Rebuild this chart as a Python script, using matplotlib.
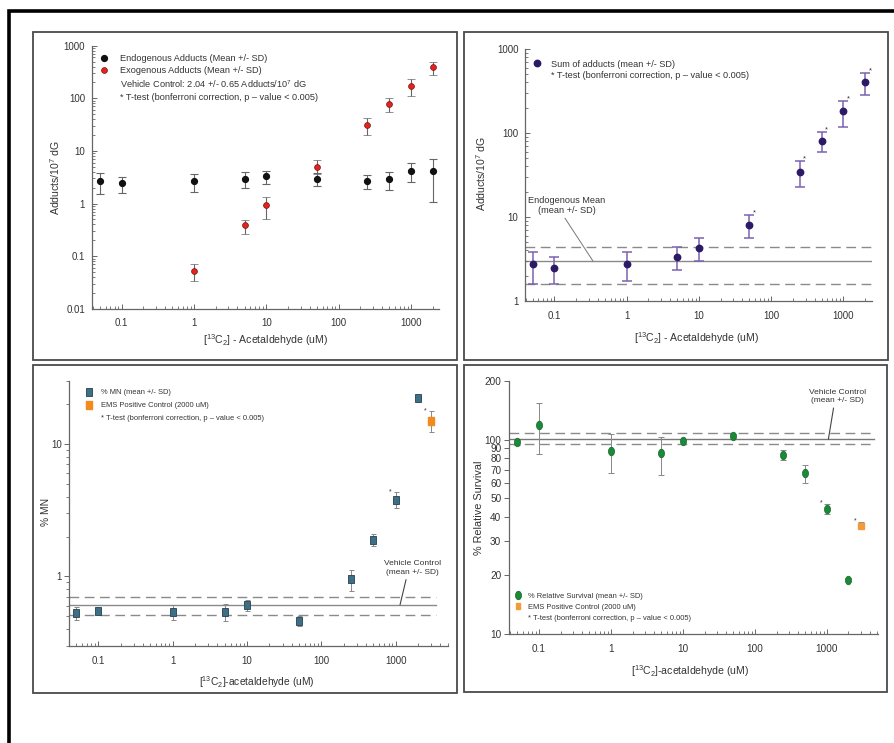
import matplotlib
matplotlib.use('Agg')
import matplotlib.pyplot as plt
from matplotlib.patches import Rectangle
from matplotlib.lines import Line2D
from matplotlib.markers import MarkerStyle
from matplotlib.transforms import Affine2D
from matplotlib.ticker import LogLocator, NullFormatter, NullLocator
import numpy as np

plt.rcParams['font.family'] = ['Liberation Sans', 'DejaVu Sans']
plt.rcParams['mathtext.fontset'] = 'custom'
plt.rcParams['mathtext.rm'] = 'Liberation Sans'
plt.rcParams['mathtext.it'] = 'Liberation Sans:italic'
plt.rcParams['text.color'] = '#333333'

# ---------------- data ----------------
dose = [0.05, 0.1, 1, 5, 10, 50, 250, 500, 1000, 2000]
xtick_vals = [0.1, 1, 10, 100, 1000]
xtick_labels = ['0.1', '1', '10', '100', '1000']

# panel A: endogenous / exogenous adducts
endo_mean = [2.72, 2.45, 2.72, 2.96, 3.33, 2.96, 2.72, 2.93, 4.15, 4.1]
endo_hi = [3.75, 3.24, 3.7, 3.92, 4.2, 3.85, 3.53, 4.03, 5.8, 7.1]
endo_lo = [1.52, 1.58, 1.63, 1.97, 2.38, 2.15, 1.91, 1.78, 2.53, 1.05]
exo_dose = [1, 5, 10, 50, 250, 500, 1000, 2000]
exo_mean = [0.053, 0.385, 0.935, 5.0, 31, 78, 171, 388]
exo_hi = [0.072, 0.49, 1.33, 6.8, 42, 100, 233, 497]
exo_lo = [0.034, 0.263, 0.507, 3.63, 20, 55.6, 111, 273]
a_yticks = [0.01, 0.1, 1, 10, 100, 1000]
a_ylabels = ['0.01', '0.1', '1', '10', '100', '1000']

# panel B: sum of adducts
sum_mean = [2.73, 2.47, 2.75, 3.34, 4.31, 8.1, 34.7, 81, 181, 401]
sum_hi = [3.87, 3.31, 3.8, 4.36, 5.57, 10.6, 46.4, 104, 243, 522]
sum_lo = [1.58, 1.61, 1.72, 2.32, 3.02, 5.57, 22.9, 59.4, 119, 281]
sum_sig = [False, False, False, False, False, True, True, True, True, True]
endo_ctrl = [2.99, 4.43, 1.59]   # mean, mean+SD, mean-SD
b_yticks = [1, 10, 100, 1000]
b_ylabels = ['1', '10', '100', '1000']

# panel C: % MN
mn_mean = [0.529, 0.55, 0.541, 0.541, 0.604, 0.457, 0.955, 1.89, 3.78, 22.3]
mn_hi = [0.583, 0.565, 0.608, 0.618, 0.659, 0.505, 1.12, 2.09, 4.35, 22.9]
mn_lo = [0.468, 0.535, 0.468, 0.457, 0.55, 0.424, 0.78, 1.69, 3.29, 21.7]
mn_sig = [False, False, False, False, False, False, False, False, True, False]
ems_dose = [3000]
ems_mn_mean = [14.9]
ems_mn_hi = [17.6]
ems_mn_lo = [12.4]
mn_ctrl = [0.611, 0.694, 0.514]
c_yticks = [1, 10]
c_ylabels = ['1', '10']

# panel D: % relative survival
surv_mean = [97, 119, 87.3, 85, 98.2, 104, 83.6, 67, 44, 19.0]
surv_hi = [100, 154.5, 106.6, 103, 101, 107, 87.9, 74.2, 46.8, 19.3]
surv_lo = [93.3, 84, 67, 65.9, 94.8, 101, 78.5, 59.7, 41.5, 18.7]
surv_sig = [False, False, False, False, False, False, False, False, True, False]
ems_surv_mean = [36.1]
ems_surv_hi = [37.7]
ems_surv_lo = [34.5]
surv_ctrl = [100.4, 107.6, 94.4]
d_yticks = [10, 20, 30, 40, 50, 60, 70, 80, 90, 100, 200]
d_ylabels = ['10', '20', '30', '40', '50', '60', '70', '80', '90', '100', '200']

# ---------------- layout ----------------
W, H = 894, 743
fig = plt.figure(figsize=(W / 100, H / 100), dpi=100)
fig.patch.set_facecolor('white')


def fx(x):
    return x / W


def fy(y):
    return 1 - y / H


def ax_px(l, t, r, b):
    return fig.add_axes([l / W, 1 - b / H, (r - l) / W, (b - t) / H])


# outer frame
fig.add_artist(Rectangle((fx(9), fy(760)), fx(910) - fx(9), fy(11) - fy(760),
                         transform=fig.transFigure, fill=False, lw=2.6,
                         edgecolor='black', clip_on=False))
# panel frames
for (l, t, r, b) in [(33, 32, 457, 360), (464, 32, 888, 360),
                     (33, 365, 457, 693), (464, 365, 887, 692)]:
    fig.add_artist(Rectangle((fx(l), fy(b)), fx(r) - fx(l), fy(t) - fy(b),
                             transform=fig.transFigure, fill=False, lw=1.3,
                             edgecolor='#4a4a4a'))

SP = '#666666'
TXT = '#333333'


def style_axes(ax, xdir='in', ydir='in', xpad=6, ypad=4, fs=7):
    ax.set_xscale('log')
    ax.set_yscale('log')
    for s in ['top', 'right']:
        ax.spines[s].set_visible(False)
    for s in ['left', 'bottom']:
        ax.spines[s].set_color(SP)
        ax.spines[s].set_linewidth(0.9)
    ax.xaxis.set_minor_locator(LogLocator(base=10, subs=np.arange(2, 10), numticks=20))
    ax.xaxis.set_minor_formatter(NullFormatter())
    ax.set_xticks(xtick_vals, xtick_labels)
    ax.tick_params(axis='x', which='major', direction=xdir, length=3.5, width=0.7,
                   color=SP, labelsize=fs, labelcolor=TXT, pad=xpad)
    ax.tick_params(axis='x', which='minor', direction=xdir, length=2, width=0.6, color=SP)
    ax.tick_params(axis='y', which='major', direction=ydir, length=3.5, width=0.7,
                   color=SP, labelsize=fs, labelcolor=TXT, pad=ypad)
    ax.tick_params(axis='y', which='minor', direction=ydir, length=2, width=0.6, color=SP)
    ax.set_facecolor('none')


def lerr(mean, lo, hi):
    m = np.array(mean)
    return [m - np.array(lo), np.array(hi) - m]


# ---------------- Panel A ----------------
axA = ax_px(92, 45.7, 439, 308.7)
style_axes(axA, xpad=7, ypad=5)
axA.set_xlim(0.039, 2440)
axA.set_ylim(0.01, 1000)
axA.set_yticks(a_yticks, a_ylabels)
axA.yaxis.set_minor_locator(LogLocator(base=10, subs=np.arange(2, 10), numticks=20))
axA.yaxis.set_minor_formatter(NullFormatter())
axA.errorbar(dose, endo_mean, yerr=lerr(endo_mean, endo_lo, endo_hi), fmt='o',
             color='#111111', ms=4.2, mec='#111111', ecolor='#666666', elinewidth=0.8,
             capsize=2.8, capthick=0.8, zorder=3)
axA.errorbar(exo_dose, exo_mean, yerr=lerr(exo_mean, exo_lo, exo_hi), fmt='o',
             color='#e3231f', ms=4.2, mec='#7a1010', mew=0.5, ecolor='#666666',
             elinewidth=0.8, capsize=2.8, capthick=0.8, zorder=3)
axA.set_xlabel(r'[$^{13}$C$_2$] - Acetaldehyde (uM)', fontsize=7.6, color=TXT, va='center')
axA.xaxis.set_label_coords(0.499, -0.119)
axA.set_ylabel(r'Adducts/10$^7$ dG', fontsize=7.6, color=TXT, va='center')
axA.yaxis.set_label_coords(-0.107, 0.50)
hA = [Line2D([], [], marker='o', ls='none', color='#111111', ms=4.2),
      Line2D([], [], marker='o', ls='none', color='#e3231f', mec='#7a1010', mew=0.5, ms=4.2),
      Line2D([], [], ls='none'), Line2D([], [], ls='none')]
lA = ['Endogenous Adducts (Mean +/- SD)', 'Exogenous Adducts (Mean +/- SD)',
      r'Vehicle Control: 2.04 +/- 0.65 Adducts/10$^7$ dG',
      '* T-test (bonferroni correction, p – value < 0.005)']
axA.legend(hA, lA, loc='upper left', bbox_to_anchor=(fx(99.5), fy(54.0)),
           bbox_transform=fig.transFigure, frameon=False, fontsize=6.6,
           handlelength=1.0, handletextpad=1.2, labelspacing=0.33,
           borderpad=0, borderaxespad=0, labelcolor=TXT)

# ---------------- Panel B ----------------
axB = ax_px(525.3, 49, 871.7, 301)
style_axes(axB, xpad=7, ypad=5)
axB.set_xlim(0.0397, 2470)
axB.set_ylim(1, 1000)
axB.set_yticks(b_yticks, b_ylabels)
axB.yaxis.set_minor_locator(LogLocator(base=10, subs=np.arange(2, 10), numticks=20))
axB.yaxis.set_minor_formatter(NullFormatter())
axB.axhline(endo_ctrl[0], color='#8a8a8a', lw=1.0, zorder=1)
for v in endo_ctrl[1:]:
    axB.axhline(v, color='#8a8a8a', lw=1.0, ls=(0, (7, 4)), zorder=1)
axB.errorbar(dose, sum_mean, yerr=lerr(sum_mean, sum_lo, sum_hi), fmt='o',
             color='#2c1a66', ms=4.6, ecolor='#7a62b0', elinewidth=1.1,
             capsize=3.4, capthick=1.1, zorder=3)
for x, h, s in zip(dose, sum_hi, sum_sig):
    if s:
        axB.annotate('*', xy=(x, h), xytext=(3.5, -1), textcoords='offset points',
                     fontsize=5.5, color=TXT, ha='center', va='bottom')
axB.annotate('Endogenous Mean\n(mean +/- SD)', xy=(0.343, endo_ctrl[0]),
             xytext=(0.15, 13.7), textcoords='data', ha='center', va='center',
             fontsize=6.6, color=TXT, linespacing=1.25,
             arrowprops=dict(arrowstyle='-', color='#777777', lw=0.7,
                             shrinkA=0, shrinkB=0, relpos=(0.45, 0)))
axB.set_xlabel(r'[$^{13}$C$_2$] - Acetaldehyde (uM)', fontsize=7.6, color=TXT, va='center')
axB.xaxis.set_label_coords(0.496, -0.147)
axB.set_ylabel(r'Adducts/10$^7$ dG', fontsize=7.6, color=TXT, va='center')
axB.yaxis.set_label_coords(-0.128, 0.508)
hB = [Line2D([], [], marker='o', ls='none', color='#2c1a66', ms=4.6),
      Line2D([], [], ls='none')]
lB = ['Sum of adducts (mean +/- SD)', '* T-test (bonferroni correction, p – value < 0.005)']
axB.legend(hB, lB, loc='upper left', bbox_to_anchor=(fx(532.2), fy(59.6)),
           bbox_transform=fig.transFigure, frameon=False, fontsize=6.6,
           handlelength=1.0, handletextpad=1.0, labelspacing=0.25,
           borderpad=0, borderaxespad=0, labelcolor=TXT)

# ---------------- Panel C ----------------
axC = ax_px(69.3, 380.7, 447.7, 645.7)
style_axes(axC, xdir='in', ydir='out', xpad=7.5, ypad=2, fs=7)
axC.set_xlim(0.0407, 5000)
axC.set_ylim(0.3, 30)
axC.set_yticks(c_yticks, c_ylabels)
axC.yaxis.set_minor_locator(LogLocator(base=10, subs=np.arange(2, 10), numticks=20))
axC.yaxis.set_minor_formatter(NullFormatter())
axC.axhline(mn_ctrl[0], xmax=0.968, color='#8a8a8a', lw=1.0, zorder=1)
for v in mn_ctrl[1:]:
    axC.axhline(v, xmax=0.968, color='#8a8a8a', lw=1.0, ls=(0, (7, 4)), zorder=1)
sq = MarkerStyle('s', transform=Affine2D().scale(0.82, 1.05))
axC.errorbar(dose, mn_mean, yerr=lerr(mn_mean, mn_lo, mn_hi), fmt='none',
             ecolor='#888888', elinewidth=0.7, capsize=1.8, capthick=0.7, zorder=2)
axC.plot(dose, mn_mean, ls='none', marker=sq, ms=5.2, color='#3f6f86',
         mec='#24404f', mew=0.6, zorder=3)
axC.errorbar(ems_dose, ems_mn_mean, yerr=lerr(ems_mn_mean, ems_mn_lo, ems_mn_hi),
             fmt='none', ecolor='#888888', elinewidth=0.7, capsize=1.8, capthick=0.7, zorder=2)
axC.plot(ems_dose, ems_mn_mean, ls='none', marker=sq, ms=5.2, color='#f28a1e',
         mec='#f28a1e', zorder=3)
for x, h, s in zip(dose, mn_hi, mn_sig):
    if s:
        axC.annotate('*', xy=(x, h), xytext=(-4, -2.5), textcoords='offset points',
                     fontsize=5, color=TXT, ha='center', va='bottom')
axC.annotate('*', xy=(ems_dose[0], ems_mn_hi[0]), xytext=(-4, -2.5),
             textcoords='offset points', fontsize=5, color=TXT, ha='center', va='bottom')
axC.annotate('Vehicle Control\n(mean +/- SD)', xy=(1143, mn_ctrl[0]),
             xytext=(1693, 1.16), textcoords='data', ha='center', va='center',
             fontsize=6.0, color=TXT, linespacing=1.25,
             arrowprops=dict(arrowstyle='-', color='#444444', lw=0.8,
                             shrinkA=1, shrinkB=0, relpos=(0.4, 0)))
axC.set_xlabel(r'[$^{13}$C$_2$]-acetaldehyde (uM)', fontsize=7.4, color=TXT, va='center')
axC.xaxis.set_label_coords(0.495, -0.136)
axC.set_ylabel('% MN', fontsize=7.4, color=TXT, va='center')
axC.yaxis.set_label_coords(-0.062, 0.506)
hC = [Line2D([], [], marker=sq, ls='none', color='#3f6f86', mec='#24404f', mew=0.6, ms=5.2),
      Line2D([], [], marker=sq, ls='none', color='#f28a1e', ms=5.2),
      Line2D([], [], ls='none')]
lC = ['% MN (mean +/- SD)', 'EMS Positive Control (2000 uM)',
      '* T-test (bonferroni correction, p – value < 0.005)']
axC.legend(hC, lC, loc='upper left', bbox_to_anchor=(fx(85.3), fy(389.0)),
           bbox_transform=fig.transFigure, frameon=False, fontsize=5.4,
           handlelength=1.0, handletextpad=1.1, labelspacing=0.75,
           borderpad=0, borderaxespad=0, labelcolor=TXT)

# ---------------- Panel D ----------------
axD = ax_px(509.3, 381, 877.7, 634)
style_axes(axD, xdir='in', ydir='out', xpad=7.5, ypad=2.2, fs=7.2)
axD.set_xlim(0.0386, 5100)
axD.set_ylim(10, 200)
axD.set_yticks(d_yticks, d_ylabels)
axD.yaxis.set_minor_locator(NullLocator())
axD.axhline(surv_ctrl[0], xmax=0.99, color='#777777', lw=1.0, zorder=1)
for v in surv_ctrl[1:]:
    axD.axhline(v, xmax=0.99, color='#8a8a8a', lw=1.0, ls=(0, (7, 4)), zorder=1)
el = MarkerStyle('o', transform=Affine2D().scale(0.78, 1.1))
axD.errorbar(dose, surv_mean, yerr=lerr(surv_mean, surv_lo, surv_hi), fmt='none',
             ecolor='#888888', elinewidth=0.7, capsize=2.0, capthick=0.7, zorder=2)
axD.plot(dose, surv_mean, ls='none', marker=el, ms=5.6, color='#1b8a38',
         mec='#126628', mew=0.5, zorder=3)
axD.errorbar(ems_dose, ems_surv_mean, yerr=lerr(ems_surv_mean, ems_surv_lo, ems_surv_hi),
             fmt='none', ecolor='#888888', elinewidth=0.7, capsize=2.0, capthick=0.7, zorder=2)
axD.plot(ems_dose, ems_surv_mean, ls='none', marker=sq, ms=4.6, color='#f39a3b',
         mec='#f39a3b', zorder=3)
for x, h, s in zip(dose, surv_hi, surv_sig):
    if s:
        axD.annotate('*', xy=(x, h), xytext=(-4, -2), textcoords='offset points',
                     fontsize=5, color=TXT, ha='center', va='bottom')
axD.annotate('*', xy=(ems_dose[0], ems_surv_hi[0]), xytext=(-4, -2),
             textcoords='offset points', fontsize=5, color=TXT, ha='center', va='bottom')
axD.annotate('Vehicle Control\n(mean +/- SD)', xy=(1052, surv_ctrl[0]),
             xytext=(1390, 167), textcoords='data', ha='center', va='center',
             fontsize=6.0, color=TXT, linespacing=1.25,
             arrowprops=dict(arrowstyle='-', color='#444444', lw=0.8,
                             shrinkA=1, shrinkB=0, relpos=(0.45, 0)))
axD.set_xlabel(r'[$^{13}$C$_2$]-acetaldehyde (uM)', fontsize=7.6, color=TXT, va='center')
axD.xaxis.set_label_coords(0.49, -0.145)
axD.set_ylabel('% Relative Survival', fontsize=7.8, color=TXT, va='center')
axD.yaxis.set_label_coords(-0.081, 0.498)
hD = [Line2D([], [], marker=el, ls='none', color='#1b8a38', mec='#126628', mew=0.5, ms=5.6),
      Line2D([], [], marker=sq, ls='none', color='#f39a3b', ms=4.2),
      Line2D([], [], ls='none')]
lD = ['% Relative Survival (mean +/- SD)', 'EMS Positive Control (2000 uM)',
      '* T-test (bonferroni correction, p – value < 0.005)']
axD.legend(hD, lD, loc='upper left', bbox_to_anchor=(fx(514.2), fy(592.3)),
           bbox_transform=fig.transFigure, frameon=False, fontsize=5.4,
           handlelength=1.0, handletextpad=0.9, labelspacing=0.5,
           borderpad=0, borderaxespad=0, labelcolor=TXT)

fig.savefig('out.png', dpi=100, facecolor='white')
